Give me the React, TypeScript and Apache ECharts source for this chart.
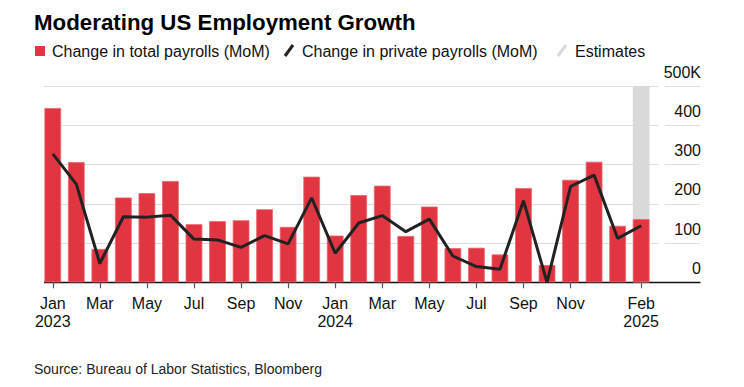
import React, { useEffect, useRef } from "react";
import * as echarts from "echarts";

const categories = [
  "Jan 2023", "Feb 2023", "Mar 2023", "Apr 2023", "May 2023", "Jun 2023",
  "Jul 2023", "Aug 2023", "Sep 2023", "Oct 2023", "Nov 2023", "Dec 2023",
  "Jan 2024", "Feb 2024", "Mar 2024", "Apr 2024", "May 2024", "Jun 2024",
  "Jul 2024", "Aug 2024", "Sep 2024", "Oct 2024", "Nov 2024", "Dec 2024",
  "Jan 2025", "Feb 2025",
];
const totalPayrolls = [
  444, 306, 85, 216, 227, 258, 148, 156, 158, 186, 141, 269,
  119, 222, 246, 118, 193, 87, 88, 71, 240, 44, 261, 307, 144, 161,
];
const privatePayrolls = [
  327, 250, 48, 167, 166, 171, 110, 108, 89, 119, 98, 215,
  74, 151, 170, 129, 161, 67, 40, 33, 208, 0, 244, 273, 112, 144,
];
const estimateMonths = ["Feb 2025"];
const yTicks = [0, 100, 200, 300, 400, 500];
const labeledIndexes = [0, 2, 4, 6, 8, 10, 12, 14, 16, 18, 20, 22, 25];

const FONT = "'Liberation Sans', Arial, Helvetica, sans-serif";
const RED = "#e13641";
const DARK = "#222222";
const GRAY = "#d9d9d9";

export default function App() {
  const ref = useRef<HTMLDivElement>(null);
  useEffect(() => {
    if (!ref.current) return;
    const chart = echarts.init(ref.current, undefined, { renderer: "svg" });
    const axisCats = [...categories, "", ""];
    const estimateData = axisCats.map((c) =>
      estimateMonths.includes(c) ? yTicks[yTicks.length - 1] : null
    );
    const showIdx = (i: number) => labeledIndexes.includes(i);
    chart.setOption({
      animation: false,
      textStyle: { fontFamily: FONT },
      grid: { left: 41, right: 44, top: 86, bottom: 104.7, containLabel: false },
      xAxis: {
        type: "category",
        data: axisCats,
        boundaryGap: true,
        axisLine: { show: true, lineStyle: { color: "#111", width: 1.3 } },
        axisTick: {
          show: true,
          alignWithLabel: true,
          length: 6,
          interval: (i: number) => showIdx(i),
          lineStyle: { color: "#555", width: 1.2 },
        },
        axisLabel: {
          interval: (i: number) => showIdx(i),
          margin: 12,
          fontSize: 16,
          lineHeight: 18,
          color: "#111",
          fontFamily: FONT,
          formatter: (v: string, i: number) => {
            const [m, y] = v.split(" ");
            if (m === "Jan" || i === categories.length - 1) return m + "\n" + y;
            return m;
          },
        },
        splitLine: { show: false },
      },
      yAxis: {
        type: "value",
        position: "right",
        min: yTicks[0],
        max: yTicks[yTicks.length - 1],
        interval: 100,
        axisLine: { show: false },
        axisTick: { show: false },
        splitLine: { show: true, lineStyle: { color: "#dddddd", width: 1.2 } },
        axisLabel: {
          inside: true,
          margin: -1,
          fontSize: 16,
          color: "#111",
          fontFamily: FONT,
          verticalAlign: "bottom",
          lineHeight: 16,
          padding: [0, 0, 6, 0],
          formatter: (v: number) => (v === yTicks[yTicks.length - 1] ? v + "K" : String(v)),
        },
      },
      graphic: [
        {
          type: "text",
          left: 34,
          top: 11,
          style: {
            text: "Moderating US Employment Growth",
            font: `bold 22.3px ${FONT}`,
            fill: "#000",
          },
        },
        { type: "rect", shape: { x: 35, y: 46, width: 10, height: 10 }, style: { fill: RED } },
        {
          type: "text",
          x: 52,
          y: 51,
          style: {
            text: "Change in total payrolls (MoM)",
            font: `16px ${FONT}`,
            fill: "#111",
            verticalAlign: "middle",
          },
        },
        {
          type: "line",
          shape: { x1: 285, y1: 56, x2: 293, y2: 45 },
          style: { stroke: DARK, lineWidth: 3 },
        },
        {
          type: "text",
          x: 302,
          y: 51,
          style: {
            text: "Change in private payrolls (MoM)",
            font: `16px ${FONT}`,
            fill: "#111",
            verticalAlign: "middle",
          },
        },
        {
          type: "line",
          shape: { x1: 558, y1: 56, x2: 566, y2: 45 },
          style: { stroke: GRAY, lineWidth: 3 },
        },
        {
          type: "text",
          x: 575,
          y: 51,
          style: {
            text: "Estimates",
            font: `16px ${FONT}`,
            fill: "#111",
            verticalAlign: "middle",
          },
        },
        {
          type: "rect",
          z: 10,
          shape: { x: 658, y: 80, width: 7, height: 200 },
          style: { fill: "#fff" },
        },
        {
          type: "rect",
          z: 10,
          shape: { x: 36, y: 80, width: 8, height: 206 },
          style: { fill: "#fff" },
        },
        {
          type: "text",
          x: 34,
          y: 369,
          style: {
            text: "Source: Bureau of Labor Statistics, Bloomberg",
            font: `14px ${FONT}`,
            fill: "#222",
            verticalAlign: "middle",
          },
        },
      ],
      series: [
        {
          name: "Estimates",
          type: "bar",
          data: estimateData,
          barWidth: "71%",
          barGap: "-100%",
          itemStyle: { color: GRAY },
          z: 1,
          silent: true,
        },
        {
          name: "Change in total payrolls (MoM)",
          type: "bar",
          data: totalPayrolls,
          barWidth: "71%",
          itemStyle: { color: RED, borderColor: "#e8666e", borderWidth: 0.8 },
          z: 2,
        },
        {
          name: "Change in private payrolls (MoM)",
          type: "line",
          data: privatePayrolls,
          symbol: "none",
          lineStyle: { color: DARK, width: 3 },
          z: 3,
        },
      ],
    });
    return () => chart.dispose();
  }, []);
  return (
    <div
      ref={ref}
      style={{ position: "fixed", left: 0, top: 0, width: 744, height: 387, background: "#fff" }}
    />
  );
}
